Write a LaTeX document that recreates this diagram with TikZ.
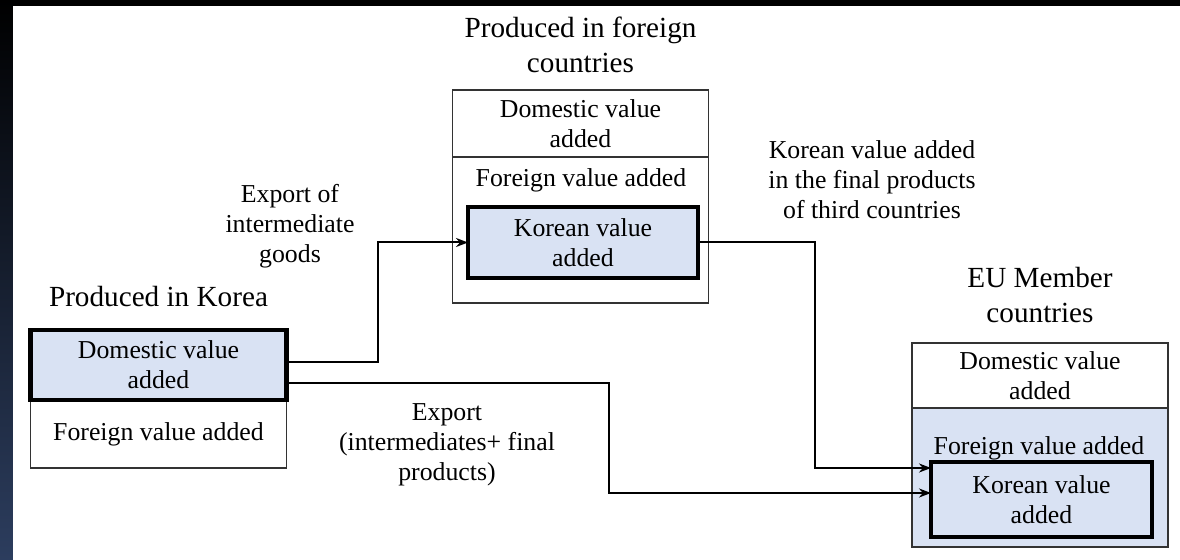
\documentclass[tikz,border=0pt]{standalone}
\usepackage{fontspec}
\setmainfont{Liberation Serif}
\usepackage{tikz}
\usetikzlibrary{arrows.meta, positioning}
\definecolor{cellblue}{HTML}{D9E2F3}
\definecolor{stripblue}{HTML}{2C3D5E}
\definecolor{edgegray}{HTML}{333333}

\begin{document}
\begin{tikzpicture}[
  x=0.5pt, y=-0.5pt,
  cell/.style = {
    rectangle, draw=edgegray, line width=0.9pt,
    minimum width=128pt, inner sep=0pt, outer sep=0pt,
    align=center, font=\fontsize{12.9}{15}\selectfont
  },
  hot/.style = {cell, fill=cellblue, draw=black, line width=2.2pt},
  title/.style = {align=center, inner sep=0pt, font=\fontsize{14.6}{17.5}\selectfont},
  note/.style = {align=center, inner sep=0pt, font=\fontsize{12.9}{15}\selectfont},
  arr/.style = {-{Stealth[length=6pt, width=4.5pt]}, line width=1pt}
]
  % frame
  \useasboundingbox (0,0) rectangle (1180,560);
  \fill[black] (0,0) rectangle (1180,560);
  \shade[top color=black, middle color=black, bottom color=stripblue] (0,0) rectangle (13,560);
  \fill[white] (13,6) rectangle (1180,560);

  % Korea
  \node[cell, minimum height=34pt] (kfor) at (158.5,434) {Foreign value added};
  \node[hot, minimum height=35pt, above=0pt of kfor] (kdom) {Domestic value\\added};
  \node[title, above=11.5pt of kdom] (ktitle) {Produced in Korea};

  % foreign countries
  \node[cell, minimum height=73pt] (flow) at (580.5,230) {};
  \node[cell, minimum height=33.5pt, above=0pt of flow] (fdom) {Domestic value\\added};
  \node[note] (ffor) at (581,180) {Foreign value added};
  \node[hot, minimum width=115pt, minimum height=35.5pt] (fkor) at (583,242.5) {Korean value\\added};
  \node[title, above=8.5pt of fdom] (ftitle) {Produced in foreign\\countries};

  % EU
  \node[cell, fill=cellblue, minimum height=69.5pt] (elow) at (1040,477.5) {};
  \node[cell, minimum height=32.5pt, above=0pt of elow] (edom) {Domestic value\\added};
  \node[note] (efor) at (1039,448) {Foreign value added};
  \node[hot, minimum width=110.5pt, minimum height=37.5pt] (ekor) at (1041.5,499.5) {Korean value\\added};
  \node[title, above=10pt of edom] (etitle) {EU Member\\countries};

  % flow labels
  \node[note] (lint)   at (290,226) {Export of\\intermediate\\goods};
  \node[note] (lthird) at (872,180) {Korean value added\\in the final products\\of third countries};
  \node[note] (lexp)   at (447,445) {Export\\(intermediates+ final\\products)};

  \draw[arr] ([yshift=1.5pt]kdom.east) -| ([xshift=-45pt]fkor.west) -- (fkor.west);
  \draw[arr] ([yshift=-9pt]kdom.east) -| ([xshift=-161pt,yshift=3.25pt]ekor.west) -- ([yshift=3.25pt]ekor.west);
  \draw[arr] (fkor.east) -| ([xshift=-58pt,yshift=15.75pt]ekor.west) -- ([yshift=15.75pt]ekor.west);
\end{tikzpicture}
\end{document}
